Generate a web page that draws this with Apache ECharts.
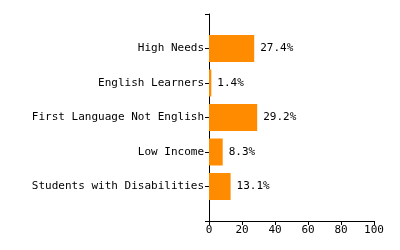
<!DOCTYPE html>
<html>
<head>
<meta charset="utf-8">
<script src="https://cdn.jsdelivr.net/npm/echarts@6/dist/echarts.min.js"></script>
<style>
  html, body { margin: 0; padding: 0; background: #fff; }
  #chart { width: 400px; height: 250px; }
</style>
</head>
<body>
<div id="chart"></div>
<script>
// categories listed bottom to top, blank slots pad the ends of the axis
const categories = ['', 'Students with Disabilities', 'Low Income', 'First Language Not English', 'English Learners', 'High Needs', ''];
const values = [null, 13.1, 8.3, 29.2, 1.4, 27.4, null];
const xTicks = [0, 20, 40, 60, 80, 100];

const font = 'DejaVu Sans Mono';

const chart = echarts.init(document.getElementById('chart'));

chart.setOption({
  animation: false,
  grid: { left: 209, right: 26, top: 14, bottom: 29, containLabel: false },
  xAxis: {
    type: 'value',
    min: xTicks[0],
    max: xTicks[xTicks.length - 1],
    interval: 20,
    axisLine: { show: true, lineStyle: { color: '#000', width: 1 } },
    axisTick: { show: true, length: 4, lineStyle: { color: '#000' } },
    axisLabel: { color: '#000', fontFamily: font, fontSize: 11, margin: 4 },
    splitLine: { show: false }
  },
  yAxis: {
    type: 'category',
    data: categories,
    boundaryGap: false,
    axisLine: { show: true, lineStyle: { color: '#000', width: 1 } },
    axisTick: { show: true, length: 4, lineStyle: { color: '#000' } },
    axisLabel: { color: '#000', fontFamily: font, fontSize: 11, margin: 5 },
    splitLine: { show: false }
  },
  series: [{
    type: 'bar',
    data: values,
    barWidth: 27,
    itemStyle: { color: '#FF8C00' },
    label: {
      show: true,
      position: 'right',
      distance: 6,
      color: '#000',
      fontFamily: font,
      fontSize: 11,
      formatter: p => p.value == null ? '' : p.value.toFixed(1) + '%'
    }
  }]
});
</script>
</body>
</html>
